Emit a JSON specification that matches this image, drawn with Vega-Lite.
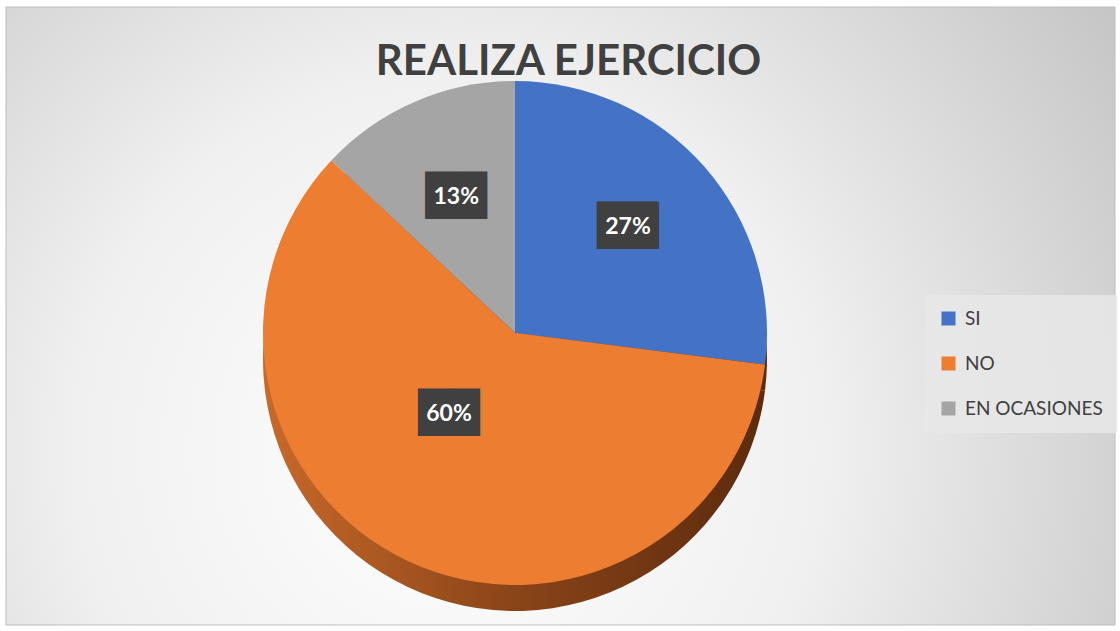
{
  "$schema": "https://vega.github.io/schema/vega-lite/v6.json",
  "width": 1109,
  "height": 618,
  "autosize": {"type": "none"},
  "padding": {"left": 6, "top": 7, "right": 5, "bottom": 6},
  "background": "#ffffff",
  "config": {"view": {"stroke": null}},
  "title": {
    "text": "REALIZA EJERCICIO",
    "font": "Lato",
    "fontSize": 42,
    "fontWeight": "bold",
    "color": "#404040",
    "anchor": "middle",
    "baseline": "alphabetic",
    "dx": 8,
    "offset": -110
  },
  "data": {
    "values": [
      {"cat": "SI", "value": 27, "ord": 1, "label": "27%"},
      {"cat": "NO", "value": 60, "ord": 2, "label": "60%"},
      {"cat": "EN OCASIONES", "value": 13, "ord": 3, "label": "13%"}
    ]
  },
  "layer": [
    {
      "data": {"values": [{}]},
      "mark": {
        "type": "rect",
        "stroke": "#bdbdbd",
        "strokeWidth": 1,
        "fill": {
          "gradient": "radial",
          "x1": 0.4, "y1": 0.62, "r1": 0,
          "x2": 0.4, "y2": 0.62, "r2": 0.75,
          "stops": [
            {"offset": 0, "color": "#ffffff"},
            {"offset": 0.45, "color": "#f0f0f0"},
            {"offset": 1, "color": "#c2c2c2"}
          ]
        }
      },
      "encoding": {
        "x": {"value": 0},
        "x2": {"value": "width"},
        "y": {"value": 0},
        "y2": {"value": "height"}
      }
    },
    {
      "mark": {
        "type": "arc",
        "x": 509,
        "y": 352,
        "radius": 252,
        "fill": {
          "gradient": "linear",
          "x1": 0, "y1": 0, "x2": 1, "y2": 0,
          "stops": [
            {"offset": 0, "color": "#c8692a"},
            {"offset": 0.5, "color": "#8a4418"},
            {"offset": 1, "color": "#5c2b0e"}
          ]
        }
      },
      "encoding": {
        "theta": {"field": "value", "type": "quantitative", "stack": true},
        "order": {"field": "ord", "type": "quantitative"}
      }
    },
    {
      "mark": {"type": "arc", "x": 509, "y": 326, "radius": 252},
      "encoding": {
        "theta": {"field": "value", "type": "quantitative", "stack": true},
        "order": {"field": "ord", "type": "quantitative"},
        "color": {
          "field": "cat",
          "type": "nominal",
          "scale": {
            "domain": ["SI", "NO", "EN OCASIONES"],
            "range": ["#4472c4", "#ed7d31", "#a5a5a5"]
          },
          "legend": {
            "title": null,
            "orient": "none",
            "legendX": 919,
            "legendY": 288,
            "labelFont": "Lato",
            "labelFontSize": 19,
            "labelColor": "#404040",
            "symbolType": "square",
            "symbolSize": 196,
            "symbolStrokeWidth": 0,
            "rowPadding": 25,
            "padding": 14,
            "labelOffset": 7,
            "fillColor": "rgba(232,232,232,0.85)"
          }
        }
      }
    },
    {
      "mark": {
        "type": "text",
        "x": 509,
        "y": 326,
        "radius": 148,
        "text": "██",
        "font": "DejaVu Sans",
        "fontSize": 40,
        "color": "#404040",
        "align": "center",
        "baseline": "middle",
        "dx": {"expr": "datum.cat === 'NO' ? -3 : (datum.cat === 'SI' ? 2 : 0)"},
        "dy": {"expr": "datum.cat === 'NO' ? -53 : (datum.cat === 'SI' ? -8 : 0)"}
      },
      "encoding": {
        "theta": {"field": "value", "type": "quantitative", "stack": true},
        "order": {"field": "ord", "type": "quantitative"}
      }
    },
    {
      "mark": {
        "type": "text",
        "x": 509,
        "y": 326,
        "radius": 148,
        "font": "Lato",
        "fontSize": 23,
        "fontWeight": "bold",
        "color": "#ffffff",
        "align": "center",
        "baseline": "middle",
        "dx": {"expr": "datum.cat === 'NO' ? -3 : (datum.cat === 'SI' ? 2 : 0)"},
        "dy": {"expr": "datum.cat === 'NO' ? -53 : (datum.cat === 'SI' ? -8 : 0)"}
      },
      "encoding": {
        "theta": {"field": "value", "type": "quantitative", "stack": true},
        "order": {"field": "ord", "type": "quantitative"},
        "text": {"field": "label", "type": "nominal"}
      }
    }
  ]
}
